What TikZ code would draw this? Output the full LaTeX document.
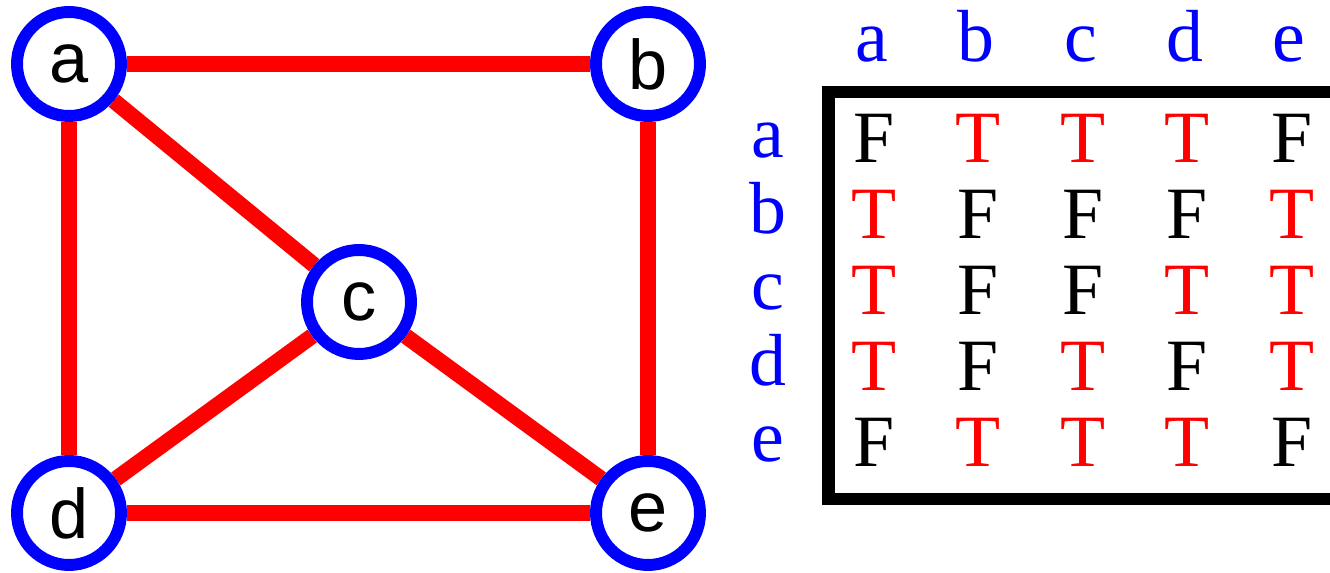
\documentclass[tikz,border=0pt]{standalone}
\usepackage{fontspec}
\setmainfont{Liberation Serif}
\setsansfont{Liberation Sans}
\usetikzlibrary{backgrounds}
\definecolor{vblue}{HTML}{0000FF}
\definecolor{vred}{HTML}{FF0000}
\newcommand{\tv}[1]{\if#1T\textcolor{vred}{T}\else F\fi}

\begin{document}
\begin{tikzpicture}[x=0.02cm, y=-0.02cm,
  vertex/.style={circle, draw=vblue, line width=6.8pt, fill=white,
    minimum size=2.08cm, inner sep=0pt,
    font=\sffamily\fontsize{40}{40}\selectfont},
  link/.style={draw=vred, line width=9pt},
  lbl/.style={anchor=base, text=vblue, font=\fontsize{42}{42}\selectfont},
  val/.style={anchor=base, font=\fontsize{42}{42}\selectfont}]
\useasboundingbox (0,0) rectangle (1330,573);

% the graph
\node[vertex] (a) at (69,64) {a};
\node[vertex] (b) at (648,64) {b};
\node[vertex] (c) at (359,302) {c};
\node[vertex] (d) at (69,513) {d};
\node[vertex] (e) at (648,513) {e};
\begin{scope}[on background layer]
  \draw[link] (a) -- (b);
  \draw[link] (a) -- (d);
  \draw[link] (a) -- (c);
  \draw[link] (b) -- (e);
  \draw[link] (c) -- (d);
  \draw[link] (c) -- (e);
  \draw[link] (d) -- (e);
\end{scope}

% adjacency matrix
\foreach \nm [count=\j from 0] in {a,b,c,d,e}
  \node[lbl] (col-\nm) at (872+104.3*\j, 62) {\nm};
\foreach \nm/\row [count=\i from 0] in {a/{F,T,T,T,F}, b/{T,F,F,F,T},
    c/{T,F,F,T,T}, d/{T,F,T,F,T}, e/{F,T,T,T,F}} {
  \node[lbl] (row-\nm) at (768, 158+76*\i) {\nm};
  \foreach \v [count=\j from 0] in \row
    \node[val] (m-\nm-\j) at (874+104.5*\j, 163+76*\i) {\tv{\v}};
}
\draw[line width=7.1pt] (1330,92) -- (828.5,92) -- (828.5,499) -- (1330,499);
\end{tikzpicture}
\end{document}
